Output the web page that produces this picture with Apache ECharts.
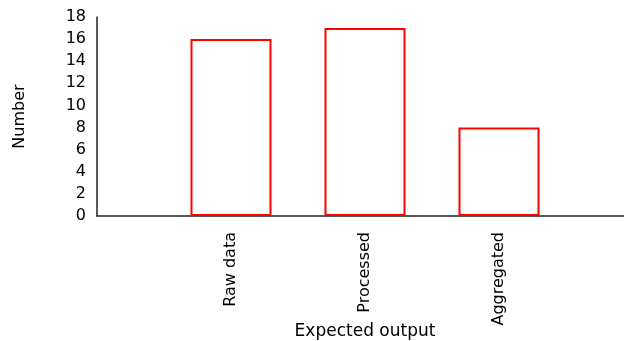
<!DOCTYPE html>
<html><head><meta charset="utf-8">
<script src="https://cdn.jsdelivr.net/npm/echarts@6/dist/echarts.min.js"></script>
<style>html,body{margin:0;padding:0;background:#fff}#c{width:624px;height:341px}</style>
</head><body><div id="c"></div>
<script>
const categories = ['', 'Raw data', 'Processed', 'Aggregated', ''];
const values = [null, 16, 17, 8, null];
const yTicks = { min: 0, max: 18, interval: 2 };
const xName = 'Expected output';
const yName = 'Number';

const chart = echarts.init(document.getElementById('c'), null, { renderer: 'canvas' });
const font = 'DejaVu Sans';
chart.setOption({
  animation: false,
  backgroundColor: '#fff',
  grid: { left: 97, top: 17, width: 536, height: 199, containLabel: false, outerBoundsMode: 'none' },
  xAxis: {
    type: 'category', data: categories, boundaryGap: false,
    axisLine: { lineStyle: { color: '#222', width: 1.5 } },
    axisTick: { show: false },
    axisLabel: { rotate: 90, margin: 16, color: '#000', fontFamily: font, fontSize: 16, interval: 0 },
    name: xName, nameLocation: 'middle', nameGap: 107, nameMoveOverlap: false,
    nameTextStyle: { color: '#000', fontFamily: font, fontSize: 17, verticalAlign: 'top' }
  },
  yAxis: {
    type: 'value', min: yTicks.min, max: yTicks.max, interval: yTicks.interval,
    splitLine: { show: false },
    axisLine: { show: true, lineStyle: { color: '#222', width: 1.5 } },
    axisTick: { show: false },
    axisLabel: { margin: 11, color: '#000', fontFamily: font, fontSize: 16 },
    name: yName, nameLocation: 'middle', nameRotate: 90, nameGap: 69, nameMoveOverlap: false,
    nameTextStyle: { color: '#000', fontFamily: font, fontSize: 16 }
  },
  series: [{
    type: 'bar', data: values, barWidth: 81,
    itemStyle: { color: '#fff', borderColor: '#ff0000', borderWidth: 2 }
  }]
});
</script></body></html>
